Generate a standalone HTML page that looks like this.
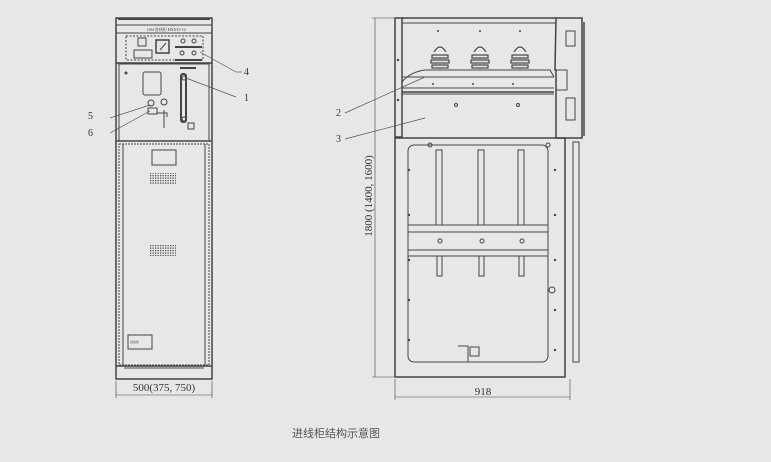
<!DOCTYPE html>
<html><head><meta charset="utf-8"><style>
html,body{margin:0;padding:0;background:#e7e7e7;}
svg{display:block}
text{font-family:"Liberation Serif","Noto Serif CJK SC",serif;fill:#333}
</style></head><body>
<svg width="771" height="462" viewBox="0 0 771 462" xmlns="http://www.w3.org/2000/svg">
<defs>
<pattern id="dots" width="2.5" height="2.5" patternUnits="userSpaceOnUse"><rect width="1.3" height="1.3" fill="#555"/></pattern>
</defs>
<rect width="771" height="462" fill="#e7e7e7"/>
<g stroke="#444" fill="none" stroke-width="1">
<!-- LEFT CABINET -->
<rect x="116" y="18" width="96" height="361" stroke-width="1.5"/>
<line x1="118" y1="19" x2="210" y2="19" stroke-width="2"/>
<line x1="116" y1="25" x2="212" y2="25"/>
<line x1="116" y1="33" x2="212" y2="33"/>
<rect x="126" y="36" width="77" height="24" stroke-dasharray="2,1.5"/>
<rect x="138" y="38" width="8" height="8"/>
<rect x="134" y="50" width="18" height="8"/>
<rect x="156" y="40" width="13" height="13" stroke-width="1.5"/>
<line x1="160" y1="50" x2="166" y2="43"/>
<circle cx="183" cy="41" r="2"/><circle cx="194" cy="41" r="2"/>
<line x1="175" y1="47" x2="202" y2="47" stroke-width="2"/>
<circle cx="182" cy="53" r="2"/><circle cx="194" cy="53" r="2"/>
<line x1="175" y1="60" x2="202" y2="60" stroke-width="2"/>
<line x1="116" y1="63" x2="212" y2="63" stroke-width="1.5"/>
<line x1="180" y1="68" x2="196" y2="68" stroke-width="2"/>
<rect x="119" y="64" width="90" height="77"/>
<rect x="143" y="72" width="18" height="23" rx="2"/>
<circle cx="151" cy="103" r="3"/>
<circle cx="164" cy="102" r="3"/>
<rect x="148" y="108" width="9" height="6"/>
<line x1="164" y1="110" x2="164" y2="128"/>
<path d="M157 113 h10 v4"/>
<rect x="181" y="74" width="5" height="48" rx="2" stroke-width="2"/>
<circle cx="184" cy="78" r="2"/><circle cx="184" cy="119" r="2"/>
<rect x="188" y="123" width="6" height="6"/>
<line x1="116" y1="141" x2="212" y2="141" stroke-width="1.5"/>
<rect x="119" y="144" width="90" height="221" stroke-dasharray="2,1"/>
<line x1="123" y1="144" x2="123" y2="365"/>
<line x1="205" y1="144" x2="205" y2="365"/>
<rect x="152" y="150" width="24" height="15"/>
<rect x="150" y="173" width="26" height="12" fill="url(#dots)" stroke="none"/>
<rect x="150" y="244" width="26" height="12" fill="url(#dots)" stroke="none"/>
<rect x="128" y="335" width="24" height="14"/>
<line x1="116" y1="366" x2="212" y2="366" stroke-width="1.5"/>
<line x1="124" y1="368" x2="204" y2="368"/>
<!-- left callouts -->
<line x1="200" y1="52" x2="236" y2="72" stroke="#555" stroke-width="0.7"/>
<line x1="236" y1="72" x2="242" y2="72" stroke="#555" stroke-width="0.7"/>
<line x1="186" y1="78" x2="236" y2="97" stroke="#555" stroke-width="0.7"/>
<line x1="150" y1="105" x2="110" y2="118" stroke="#555" stroke-width="0.7"/>
<line x1="150" y1="111" x2="110" y2="133" stroke="#555" stroke-width="0.7"/>
<!-- dim left -->
<line x1="116" y1="381" x2="116" y2="398" stroke-width="0.6"/>
<line x1="212" y1="381" x2="212" y2="398" stroke-width="0.6"/>
<line x1="116" y1="395" x2="212" y2="395" stroke-width="0.6"/>

<!-- RIGHT CABINET -->
<rect x="395" y="18" width="7" height="119" stroke-width="1.5"/>
<line x1="402" y1="18" x2="556" y2="18" stroke-width="1.5"/>
<line x1="402" y1="23" x2="556" y2="23"/>
<path d="M556 18 H582 V138 H556 V70 H555 Z" stroke-width="1.5"/>
<line x1="584" y1="22" x2="584" y2="136" stroke-width="1.5"/>
<rect x="566" y="31" width="9" height="15"/>
<rect x="556" y="70" width="11" height="20"/>
<rect x="566" y="98" width="9" height="22"/>
<g stroke-width="1.2">
<path d="M434 52 q6 -10 12 0"/><rect x="432" y="55" width="16" height="3"/><rect x="431" y="60" width="18" height="3"/><rect x="432" y="65" width="16" height="3"/>
<path d="M474 52 q6 -10 12 0"/><rect x="472" y="55" width="16" height="3"/><rect x="471" y="60" width="18" height="3"/><rect x="472" y="65" width="16" height="3"/>
<path d="M514 52 q6 -10 12 0"/><rect x="512" y="55" width="16" height="3"/><rect x="511" y="60" width="18" height="3"/><rect x="512" y="65" width="16" height="3"/>
</g>
<path d="M402 82 Q410 72 425 70 H550 L554 77"/>
<line x1="402" y1="77" x2="554" y2="77"/>
<line x1="402" y1="88" x2="554" y2="88"/>
<line x1="402" y1="92" x2="554" y2="92" stroke-width="1.5"/>
<line x1="402" y1="94" x2="554" y2="94"/>
<circle cx="456" cy="105" r="1.5"/><circle cx="518" cy="105" r="1.5"/>
<rect x="395" y="138" width="170" height="239" stroke-width="1.5"/>
<rect x="573" y="142" width="6" height="220"/>
<rect x="408" y="145" width="140" height="217" rx="6"/>
<rect x="436" y="150" width="6" height="75"/><rect x="478" y="150" width="6" height="75"/><rect x="518" y="150" width="6" height="75"/>
<rect x="408" y="225" width="140" height="7"/>
<rect x="408" y="250" width="140" height="6"/>
<rect x="437" y="256" width="5" height="20"/><rect x="479" y="256" width="5" height="20"/><rect x="519" y="256" width="5" height="20"/>
<circle cx="440" cy="241" r="2"/><circle cx="482" cy="241" r="2"/><circle cx="522" cy="241" r="2"/>
<path d="M458 346 H468 V362"/><rect x="470" y="347" width="9" height="9"/>
<circle cx="430" cy="145" r="2"/><circle cx="548" cy="145" r="2"/><circle cx="552" cy="290" r="3"/>
<line x1="345" y1="113" x2="425" y2="77" stroke="#555" stroke-width="0.7"/>
<line x1="345" y1="139" x2="425" y2="118" stroke="#555" stroke-width="0.7"/>
<line x1="375" y1="18" x2="375" y2="377" stroke-width="0.6"/>
<line x1="372" y1="18" x2="395" y2="18" stroke-width="0.6"/>
<line x1="372" y1="377" x2="395" y2="377" stroke-width="0.6"/>
<line x1="395" y1="379" x2="395" y2="400" stroke-width="0.6"/>
<line x1="570" y1="379" x2="570" y2="400" stroke-width="0.6"/>
<line x1="395" y1="397" x2="570" y2="397" stroke-width="0.6"/>
</g>
<g fill="#444">
<circle cx="409" cy="170" r="1.2"/><circle cx="409" cy="215" r="1.2"/><circle cx="409" cy="260" r="1.2"/><circle cx="409" cy="300" r="1.2"/><circle cx="409" cy="340" r="1.2"/>
<circle cx="555" cy="170" r="1.2"/><circle cx="555" cy="215" r="1.2"/><circle cx="555" cy="260" r="1.2"/><circle cx="555" cy="310" r="1.2"/><circle cx="555" cy="350" r="1.2"/>
<circle cx="398" cy="60" r="1.2"/><circle cx="398" cy="100" r="1.2"/>
<circle cx="438" cy="31" r="1"/><circle cx="480" cy="31" r="1"/><circle cx="520" cy="31" r="1"/>
<circle cx="433" cy="84" r="1"/><circle cx="473" cy="84" r="1"/><circle cx="513" cy="84" r="1"/>
<circle cx="126" cy="73" r="1.5"/>
</g>
<text x="147" y="31" font-size="4">G04  进线柜    HXN15-12</text>
<text x="130" y="343" font-size="3">进线柜</text>
<text x="244" y="75" font-size="10">4</text>
<text x="244" y="101" font-size="10">1</text>
<text x="88" y="119" font-size="10">5</text>
<text x="88" y="136" font-size="10">6</text>
<text x="336" y="116" font-size="10">2</text>
<text x="336" y="142" font-size="10">3</text>
<text x="164" y="391" font-size="11" text-anchor="middle">500(375, 750)</text>
<text x="483" y="395" font-size="11" text-anchor="middle">918</text>
<text transform="translate(372,196) rotate(-90)" font-size="11" text-anchor="middle">1800 (1400, 1600)</text>
<text x="336" y="437" font-size="11" text-anchor="middle" style="font-family:'Noto Sans CJK SC',sans-serif;fill:#555">进线柜结构示意图</text>
</svg>
</body></html>
